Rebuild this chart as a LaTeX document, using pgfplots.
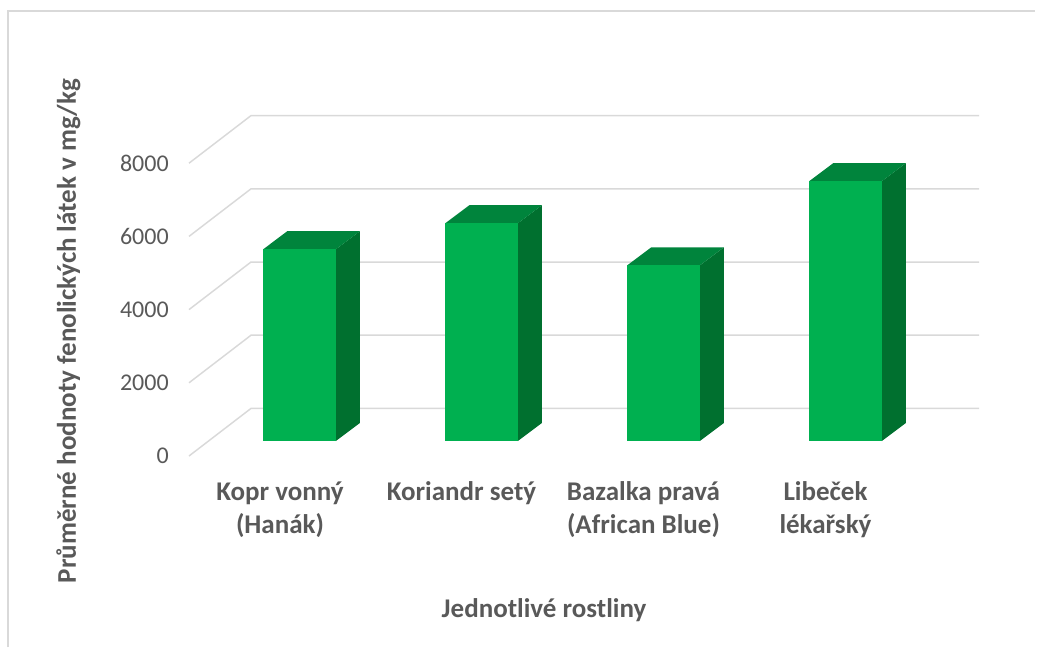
\documentclass[border=0pt]{standalone}
\usepackage{pgfplots}
\pgfplotsset{compat=1.18}
\usepackage{pgfplotstable}
\usepackage{fontspec}
\setmainfont{Carlito}
\definecolor{gridc}{HTML}{D9D9D9}
\definecolor{txt}{HTML}{595959}
\definecolor{gfront}{HTML}{00B050}
\definecolor{gtop}{HTML}{00843C}
\definecolor{gside}{HTML}{00702F}

% i = category index, v = mean phenolic content (mg/kg)
\pgfplotstableread{
i v
0 5240
1 5950
2 4800
3 7100
}\bars

\begin{document}
\begin{tikzpicture}
\begin{axis}[
  x=0.75pt, y=0.02745pt,
  xmin=189, xmax=979, ymin=0, ymax=9300,
  clip=false, no markers,
  axis line style={draw=none},
  major tick length=0pt, tick style={draw=none},
  ytick={0,2000,4000,6000,8000},
  yticklabels={0,2000,4000,6000,8000},
  yticklabel style={anchor=east, inner sep=0pt, xshift=-15pt, text=txt,
    font=\fontsize{18}{21.6}\selectfont},
  xtick={280,461.5,643.5,825.5},
  xticklabels={{\strut Kopr vonný\\(Hanák)},{\strut Koriandr setý},{\strut Bazalka pravá\\(African Blue)},{\strut Libeček\\lékařský}},
  xticklabel style={anchor=north, align=center, inner sep=0pt, yshift=-15.4pt, text=txt,
    font=\bfseries\fontsize{20.25}{25.2}\selectfont},
  xlabel={Jednotlivé rostliny},
  xlabel style={at={(axis cs:544,-4399)}, anchor=base, inner sep=0pt, text=txt,
    font=\bfseries\fontsize{20.25}{25.2}\selectfont},
  ylabel={Průměrné hodnoty fenolických látek v mg/kg},
  ylabel style={at={(axis cs:76,3415)}, anchor=base, inner sep=0pt, text=txt,
    font=\bfseries\fontsize{20.25}{25.2}\selectfont},
]
% frame
\draw[gridc, line width=1.5pt] (axis cs:8,-5219) -- (axis cs:8,12158) -- (axis cs:1035,12158);
% gridlines (front diagonal + back wall)
\pgfplotsinvokeforeach{0,2000,4000,6000,8000}{
  \pgfmathsetmacro\gy{#1+1300}
  \addplot[gridc, line width=1.1pt] coordinates {(189,#1) (251,\gy) (979,\gy)};
}
% 3D bars
\pgfplotsinvokeforeach{0,1,2,3}{
  \pgfplotstablegetelem{#1}{v}\of\bars
  \pgfmathsetmacro\yb{410}
  \pgfmathsetmacro\yt{410+\pgfplotsretval}
  \pgfmathsetmacro\ybb{\yb+492}
  \pgfmathsetmacro\ytb{\yt+492}
  \pgfmathsetmacro\xc{208.6+182*(#1+0.5)}
  \pgfmathsetmacro\xl{\xc-36.3}
  \pgfmathsetmacro\xr{\xc+36.3}
  \pgfmathsetmacro\xlb{\xl+24}
  \pgfmathsetmacro\xrb{\xr+24}
  \addplot[fill=gside, draw=none] coordinates {(\xr,\yb) (\xrb,\ybb) (\xrb,\ytb) (\xr,\yt)};
  \addplot[fill=gtop, draw=none] coordinates {(\xl,\yt) (\xr,\yt) (\xrb,\ytb) (\xlb,\ytb)};
  \addplot[fill=gfront, draw=none] coordinates {(\xl,\yb) (\xr,\yb) (\xr,\yt) (\xl,\yt)};
}
\coordinate (BL) at (axis cs:0,-5219);
\coordinate (TR) at (axis cs:1042,12459);
\end{axis}
\pgfresetboundingbox
\path (BL) rectangle (TR);
\end{tikzpicture}
\end{document}
